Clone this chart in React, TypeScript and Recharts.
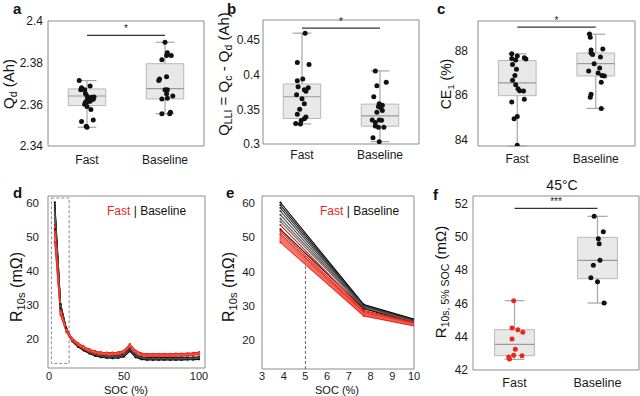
import React from 'react'
import {
  ComposedChart,
  Line,
  Scatter,
  XAxis,
  YAxis,
  ReferenceArea,
  ReferenceLine,
} from 'recharts'

const FONT = '"Liberation Sans", Arial, Helvetica, sans-serif'
const RED = '#e8281e'
const INK = '#111111'
const FRAME = '#8c8c8c'
const WHISK = '#a6a6a6'
const W = 640
const H = 396
const AXW = 45
const AXH = 30

const groupNames = ['Fast', 'Baseline']

// dots: [value, horizontal jitter]
const qdFast = [[2.3714, -0.1], [2.368, -0.07], [2.367, -0.08], [2.367, -0.03], [2.3688, 0.04], [2.3652, -0.02], [2.364, 0], [2.363, 0.02], [2.3634, 0.06], [2.3635, 0.09], [2.3624, 0.08], [2.362, 0], [2.361, -0.02], [2.3614, 0.01], [2.3615, 0.04], [2.36, -0.03], [2.359, 0], [2.3575, 0.05], [2.3518, -0.07], [2.3525, 0.08], [2.3495, -0.01], [2.349, 0]]
const qdBase = [[2.3898, 0], [2.3848, 0.03], [2.3835, 0.08], [2.3835, 0.02], [2.3814, -0.04], [2.3722, -0.07], [2.3714, -0.08], [2.3733, 0.02], [2.367, 0], [2.367, 0.03], [2.3651, 0.02], [2.364, 0.1], [2.3626, -0.04], [2.3629, 0.03], [2.3555, -0.04], [2.3555, 0.06], [2.3562, 0.07]]
const qlliFast = [[0.46, 0.04], [0.4176, -0.06], [0.4147, 0.09], [0.3914, -0.06], [0.3938, 0.01], [0.3827, -0.05], [0.3813, 0.08], [0.3784, 0.03], [0.376, 0.05], [0.3711, -0.07], [0.3653, 0], [0.358, 0.03], [0.3503, -0.03], [0.343, -0.06], [0.339, 0.05], [0.3363, 0.03], [0.3339, -0.01], [0.3295, -0.08], [0.329, -0.02]]
const qlliBase = [[0.4055, -0.06], [0.389, 0.08], [0.3842, -0.04], [0.3682, -0.08], [0.358, -0.01], [0.3561, 0.03], [0.3542, -0.02], [0.3522, 0.01], [0.3484, 0.03], [0.346, -0.04], [0.3348, -0.1], [0.3348, -0.01], [0.331, -0.06], [0.3343, 0.02], [0.3261, -0.06], [0.3242, -0.02], [0.3242, 0.05], [0.3092, -0.09], [0.3034, -0.01]]
const ceFast = [[87.84, -0.07], [87.75, 0], [87.63, -0.07], [87.57, -0.02], [87.67, 0.09], [87.61, 0.11], [87.36, -0.06], [87.15, -0.01], [86.87, -0.03], [86.66, -0.06], [86.46, -0.02], [86.28, 0.01], [86.19, 0.03], [86.18, 0.08], [85.81, 0.09], [85.69, -0.07], [85.04, 0], [84.94, -0.04], [83.75, 0]]
const ceBase = [[88.73, -0.08], [88.58, -0.07], [88.01, -0.06], [87.88, -0.06], [87.81, -0.04], [88.06, 0.09], [87.7, 0.06], [87.4, -0.02], [87.07, -0.09], [87.21, 0.05], [86.99, 0.03], [86.87, 0.08], [86.85, 0.11], [86.57, 0.07], [86.03, -0.06], [85.9, -0.07], [85.4, 0.07]]
const r5Fast = [[46.16, -0.01], [44.52, -0.03], [44.42, 0.04], [44.26, 0.1], [43.86, -0.03], [43.24, 0.01], [42.86, 0.09], [42.88, -0.01], [42.78, -0.07], [42.66, -0.06]]
const r5Base = [[51.22, -0.04], [50.3, 0.07], [49.88, 0.01], [49.58, 0.02], [48.58, 0.03], [48.28, -0.05], [47.54, -0.08], [47.3, 0], [46.02, 0.08]]

// box stats: [low whisker, q1, median, q3, high whisker]
const qdFastBox = [2.349, 2.3594, 2.364, 2.3674, 2.3714]
const qdBaseBox = [2.3555, 2.3626, 2.3675, 2.3795, 2.3898]
const qlliFastBox = [0.329, 0.3368, 0.3682, 0.3866, 0.46]
const qlliBaseBox = [0.3034, 0.3256, 0.3406, 0.3576, 0.4055]
const ceFastBox = [83.72, 85.97, 86.54, 87.54, 87.84]
const ceBaseBox = [85.4, 86.85, 87.4, 87.88, 88.72]
const r5FastBox = [42.64, 42.86, 43.54, 44.42, 46.16]
const r5BaseBox = [46.02, 47.48, 48.58, 49.96, 51.22]

// R10s vs SOC, one row per cell
const socPts = [3.85, 7.69, 11.54, 15.38, 19.23, 23.08, 26.92, 30.77, 34.62, 38.46, 42.31, 46.15, 50, 53.85, 57.69, 61.54, 65.38, 69.23, 73.08, 76.92, 80.77, 84.62, 88.46, 92.31, 96.15, 100]
const baseCells = [
  [60.2, 30.3, 23.2, 19.9, 18.3, 17.2, 16.3, 15.6, 15.2, 15.0, 15.0, 15.1, 15.5, 17.1, 15.3, 14.7, 14.5, 14.5, 14.5, 14.5, 14.5, 14.5, 14.6, 14.6, 14.6, 14.7],
  [59.4, 30.1, 23.0, 19.8, 18.2, 17.1, 16.2, 15.5, 15.1, 14.9, 14.9, 15.0, 15.4, 17.0, 15.2, 14.6, 14.4, 14.4, 14.4, 14.4, 14.4, 14.4, 14.5, 14.5, 14.5, 14.6],
  [58.6, 29.9, 22.9, 19.7, 18.1, 17.0, 16.1, 15.4, 15.0, 14.8, 14.8, 14.9, 15.3, 16.9, 15.1, 14.5, 14.3, 14.3, 14.3, 14.3, 14.3, 14.3, 14.4, 14.4, 14.4, 14.5],
  [57.7, 29.8, 22.8, 19.6, 18.0, 16.9, 16.0, 15.3, 14.9, 14.7, 14.7, 14.8, 15.2, 16.8, 15.0, 14.4, 14.2, 14.2, 14.2, 14.2, 14.2, 14.2, 14.2, 14.3, 14.3, 14.4],
  [56.6, 29.6, 22.6, 19.5, 17.9, 16.8, 15.9, 15.2, 14.8, 14.6, 14.6, 14.7, 15.1, 16.7, 14.9, 14.3, 14.1, 14.1, 14.1, 14.1, 14.1, 14.1, 14.1, 14.2, 14.2, 14.3],
  [55.5, 29.5, 22.5, 19.5, 17.9, 16.7, 15.8, 15.1, 14.7, 14.5, 14.5, 14.6, 15.0, 16.6, 14.8, 14.2, 14.0, 14.0, 14.0, 14.0, 14.0, 14.0, 14.0, 14.1, 14.1, 14.2],
  [54.6, 29.3, 22.4, 19.4, 17.8, 16.7, 15.8, 15.1, 14.7, 14.5, 14.4, 14.5, 14.9, 16.5, 14.7, 14.1, 13.9, 13.9, 13.9, 13.9, 13.9, 13.9, 13.9, 14.0, 14.0, 14.1],
  [52.3, 29.1, 22.2, 19.3, 17.7, 16.6, 15.7, 15.0, 14.6, 14.4, 14.3, 14.4, 14.8, 16.4, 14.6, 14.0, 13.8, 13.8, 13.8, 13.8, 13.8, 13.8, 13.8, 13.9, 13.9, 14.0],
]
const fastCells = [
  [53.6, 28.6, 22.8, 20.2, 18.8, 17.8, 17.0, 16.4, 16.1, 16.0, 16.0, 16.1, 16.6, 18.5, 16.6, 15.8, 15.6, 15.6, 15.6, 15.6, 15.6, 15.7, 15.7, 15.8, 15.9, 16.1],
  [51.7, 28.3, 22.7, 20.1, 18.7, 17.7, 16.9, 16.3, 16.0, 15.9, 15.9, 16.0, 16.5, 18.3, 16.5, 15.7, 15.5, 15.5, 15.5, 15.5, 15.5, 15.6, 15.6, 15.7, 15.8, 16.0],
  [51.0, 28.0, 22.6, 20.0, 18.6, 17.6, 16.8, 16.2, 15.9, 15.8, 15.8, 15.9, 16.4, 18.2, 16.4, 15.6, 15.4, 15.4, 15.4, 15.4, 15.4, 15.5, 15.5, 15.6, 15.7, 15.9],
  [50.6, 27.8, 22.5, 19.9, 18.5, 17.5, 16.7, 16.1, 15.8, 15.7, 15.7, 15.8, 16.3, 18.1, 16.3, 15.5, 15.3, 15.3, 15.3, 15.3, 15.3, 15.4, 15.4, 15.5, 15.6, 15.8],
  [50.0, 27.6, 22.4, 19.8, 18.4, 17.4, 16.6, 16.0, 15.7, 15.6, 15.6, 15.7, 16.2, 18.0, 16.2, 15.4, 15.2, 15.2, 15.2, 15.2, 15.2, 15.3, 15.3, 15.4, 15.5, 15.7],
  [49.5, 27.4, 22.3, 19.7, 18.3, 17.3, 16.5, 15.9, 15.6, 15.5, 15.5, 15.6, 16.1, 17.8, 16.1, 15.3, 15.1, 15.1, 15.1, 15.1, 15.1, 15.2, 15.2, 15.3, 15.4, 15.6],
  [49.0, 27.2, 22.2, 19.6, 18.2, 17.2, 16.4, 15.8, 15.5, 15.4, 15.4, 15.5, 16.0, 17.7, 16.0, 15.2, 15.0, 15.0, 15.0, 15.0, 15.0, 15.1, 15.1, 15.2, 15.3, 15.5],
  [48.5, 27.0, 22.1, 19.5, 18.1, 17.1, 16.3, 15.7, 15.4, 15.3, 15.3, 15.4, 15.9, 17.6, 15.9, 15.1, 14.9, 14.9, 14.9, 14.9, 14.9, 14.9, 15.0, 15.1, 15.2, 15.4],
]
const baseShades = ['#000000', '#1c1c1c', '#2e2e2e', '#3d3d3d', '#4a4a4a', '#575757', '#636363', '#101010']
const fastShades = ['#e3170d', '#e8261b', '#ec3427', '#ef4233', '#f14f40', '#f35c4d', '#f5695a', '#e62c20']

const lineRows = socPts.map((soc, i) => {
  const row: any = { soc }
  baseCells.forEach((c, k) => (row[`b${k}`] = c[i]))
  fastCells.forEach((c, k) => (row[`f${k}`] = c[i]))
  return row
})

const rDomain = [11.45, 62.1]
const rTicks = [20, 30, 40, 50, 60]

type Plot = { left: number; top: number; right: number; bottom: number }

const marginOf = (p: Plot) => ({ top: p.top, left: p.left - AXW, right: W - p.right, bottom: H - p.bottom - AXH })
const tickStyle = (size: number) => ({ fill: '#1a1a1a', fontSize: size, fontFamily: FONT })
const abs: React.CSSProperties = { position: 'absolute', left: 0, top: 0 }

// small inward ticks on all four sides, matlab style
const inward = (xd: number[], xt: number[], yd: number[], yt: number[]) => [
  <XAxis key="xb" xAxisId="xb" type="number" orientation="bottom" mirror domain={xd} ticks={xt} allowDataOverflow tick={false} axisLine={false} tickSize={3} tickLine={{ stroke: FRAME }} height={0} />,
  <XAxis key="xt" xAxisId="xt" type="number" orientation="top" mirror domain={xd} ticks={xt} allowDataOverflow tick={false} axisLine={false} tickSize={3} tickLine={{ stroke: FRAME }} height={0} />,
  <YAxis key="yl" yAxisId="yl" type="number" orientation="left" mirror domain={yd} ticks={yt} allowDataOverflow tick={false} axisLine={false} tickSize={3} tickLine={{ stroke: FRAME }} width={0} />,
  <YAxis key="yr" yAxisId="yr" type="number" orientation="right" mirror domain={yd} ticks={yt} allowDataOverflow tick={false} axisLine={false} tickSize={3} tickLine={{ stroke: FRAME }} width={0} />,
]

const dotShape = (color: string) => (p: any) => <circle cx={p.cx} cy={p.cy} r={2.5} fill={color} />

const starLabel = (stars: string) => (p: any) => {
  const vb = p.viewBox || {}
  return (
    <text x={vb.x + (vb.width || 0) / 2} y={vb.y - 3} textAnchor="middle" fontSize={10} fill="#222" fontFamily={FONT}>
      {stars}
    </text>
  )
}

function BoxPanel(props: any) {
  const { plot, yDomain, yTicks, fast, base, fastBox, baseBox, sig, stars, fastColor = INK, yGap = 5, xGap = 9, xFont = 12 } = props
  const xDomain = [0.5, 2.5]
  const pts = (rows: number[][], c: number) => rows.map(([y, j]) => ({ x: c + j, y }))
  const stats = [fastBox, baseBox]
  return (
    <div style={abs}>
      <ComposedChart width={W} height={H} margin={marginOf(plot)}>
        <XAxis type="number" dataKey="x" domain={xDomain} ticks={[1, 2]} interval={0} tickFormatter={(v: number) => groupNames[v - 1]} axisLine={false} tickLine={false} tickSize={0} tickMargin={xGap} height={AXH} tick={tickStyle(xFont)} />
        <YAxis type="number" dataKey="y" domain={yDomain} ticks={yTicks} interval={0} allowDataOverflow axisLine={false} tickLine={false} tickSize={0} tickMargin={yGap} width={AXW} tick={tickStyle(12)} />
        {inward(xDomain, [1, 2], yDomain, yTicks)}
        <ReferenceArea x1={xDomain[0]} x2={xDomain[1]} y1={yDomain[0]} y2={yDomain[1]} fill="none" stroke={FRAME} ifOverflow="visible" />
        {stats.map((b: number[], i: number) => {
          const c = i + 1
          return [
            <ReferenceArea key={`box${i}`} x1={c - 0.24} x2={c + 0.24} y1={b[1]} y2={b[3]} fill="#e8e8e8" fillOpacity={1} stroke="#b9b9b9" ifOverflow="visible" />,
            <ReferenceLine key={`wl${i}`} segment={[{ x: c, y: b[0] }, { x: c, y: b[1] }]} stroke={WHISK} strokeWidth={1.2} ifOverflow="visible" />,
            <ReferenceLine key={`wh${i}`} segment={[{ x: c, y: b[3] }, { x: c, y: b[4] }]} stroke={WHISK} strokeWidth={1.2} ifOverflow="visible" />,
            <ReferenceLine key={`cl${i}`} segment={[{ x: c - 0.12, y: b[0] }, { x: c + 0.12, y: b[0] }]} stroke={WHISK} strokeWidth={1.2} ifOverflow="visible" />,
            <ReferenceLine key={`ch${i}`} segment={[{ x: c - 0.12, y: b[4] }, { x: c + 0.12, y: b[4] }]} stroke={WHISK} strokeWidth={1.2} ifOverflow="visible" />,
            <ReferenceLine key={`md${i}`} segment={[{ x: c - 0.24, y: b[2] }, { x: c + 0.24, y: b[2] }]} stroke="#9a9a9a" strokeWidth={1.2} ifOverflow="visible" />,
          ]
        })}
        <ReferenceLine segment={[{ x: 1, y: sig }, { x: 2, y: sig }]} stroke="#333" strokeWidth={1.2} ifOverflow="visible" label={{ position: 'top', content: starLabel(stars) }} />
        <Scatter data={pts(fast, 1)} fill={fastColor} shape={dotShape(fastColor)} isAnimationActive={false} />
        <Scatter data={pts(base, 2)} fill={INK} shape={dotShape(INK)} isAnimationActive={false} />
      </ComposedChart>
    </div>
  )
}

function LinePanel(props: any) {
  const { plot, xDomain, xTicks, yGap = 7, xGap = 6, extras } = props
  return (
    <div style={abs}>
      <ComposedChart width={W} height={H} margin={marginOf(plot)} data={lineRows}>
        <XAxis type="number" dataKey="soc" domain={xDomain} ticks={xTicks} interval={0} allowDataOverflow axisLine={false} tickLine={false} tickSize={0} tickMargin={xGap} height={AXH} tick={tickStyle(11)} />
        <YAxis type="number" domain={rDomain} ticks={rTicks} interval={0} allowDataOverflow axisLine={false} tickLine={false} tickSize={0} tickMargin={yGap} width={AXW} tick={tickStyle(11.5)} />
        {inward(xDomain, xTicks, rDomain, rTicks)}
        <ReferenceArea x1={xDomain[0]} x2={xDomain[1]} y1={rDomain[0]} y2={rDomain[1]} fill="none" stroke={FRAME} ifOverflow="visible" />
        {extras}
        {baseCells.map((_, k) => (
          <Line key={`b${k}`} dataKey={`b${k}`} stroke={baseShades[k]} strokeWidth={1.1} dot={{ r: 1.1, fill: baseShades[k], stroke: 'none' }} isAnimationActive={false} />
        ))}
        {fastCells.map((_, k) => (
          <Line key={`f${k}`} dataKey={`f${k}`} stroke={fastShades[k]} strokeWidth={1.1} dot={{ r: 1.1, fill: fastShades[k], stroke: 'none' }} isAnimationActive={false} />
        ))}
      </ComposedChart>
    </div>
  )
}

const Sub = ({ children }: { children: React.ReactNode }) => (
  <span style={{ fontSize: '0.7em', position: 'relative', top: '0.3em' }}>{children}</span>
)

const VLabel = ({ x, y, size, children }: any) => (
  <div style={{ position: 'absolute', left: x, top: y, transform: 'translate(-50%, -50%) rotate(-90deg)', fontSize: size, lineHeight: 1, whiteSpace: 'nowrap', color: INK, fontFamily: FONT }}>
    {children}
  </div>
)

const Txt = ({ x, y, size, bold, center, children }: any) => (
  <div style={{ position: 'absolute', left: x, top: y, transform: center ? 'translateX(-50%)' : undefined, fontSize: size, fontWeight: bold ? 'bold' : 'normal', lineHeight: 1, whiteSpace: 'nowrap', color: INK, fontFamily: FONT }}>
    {children}
  </div>
)

export default function App() {
  return (
    <div style={{ position: 'absolute', left: 0, top: 0, width: W, height: H, background: '#fff', overflow: 'hidden', fontFamily: FONT }}>
      <BoxPanel plot={{ left: 48, top: 21, right: 204, bottom: 146 }} yDomain={[2.34, 2.4]} yTicks={[2.34, 2.36, 2.38, 2.4]} fast={qdFast} base={qdBase} fastBox={qdFastBox} baseBox={qdBaseBox} sig={2.3931} stars="*" yGap={5} xGap={9} />
      <BoxPanel plot={{ left: 263, top: 20, right: 419, bottom: 144 }} yDomain={[0.3, 0.479]} yTicks={[0.3, 0.35, 0.4, 0.45]} fast={qlliFast} base={qlliBase} fastBox={qlliFastBox} baseBox={qlliBaseBox} sig={0.4674} stars="*" yGap={3} xGap={6} />
      <BoxPanel plot={{ left: 478, top: 21, right: 635, bottom: 146 }} yDomain={[83.72, 89.31]} yTicks={[84, 86, 88]} fast={ceFast} base={ceBase} fastBox={ceFastBox} baseBox={ceBaseBox} sig={89.04} stars="*" yGap={10} xGap={8} />
      <BoxPanel plot={{ left: 473, top: 196, right: 639, bottom: 370 }} yDomain={[42, 52.44]} yTicks={[42, 44, 46, 48, 50, 52]} fast={r5Fast} base={r5Base} fastBox={r5FastBox} baseBox={r5BaseBox} sig={51.7} stars="***" fastColor={RED} yGap={5} xGap={8} xFont={12.5} />
      <LinePanel
        plot={{ left: 48, top: 196, right: 205, bottom: 368 }}
        xDomain={[-0.7, 104]}
        xTicks={[0, 50, 100]}
        yGap={9}
        xGap={4}
        extras={<ReferenceArea x1={1.56} x2={13.4} y1={12.8} y2={61.5} fill="none" stroke="#8a8a8a" strokeDasharray="3 2" ifOverflow="visible" />}
      />
      <LinePanel
        plot={{ left: 262, top: 196, right: 414, bottom: 369 }}
        xDomain={[3, 10]}
        xTicks={[3, 4, 5, 6, 7, 8, 9, 10]}
        yGap={7}
        xGap={3}
        extras={<ReferenceLine segment={[{ x: 5, y: rDomain[0] }, { x: 5, y: 45.6 }]} stroke="#666" strokeDasharray="3 2" ifOverflow="visible" />}
      />

      <Txt x={13} y={1} size={15} bold>a</Txt>
      <Txt x={227} y={1} size={15} bold>b</Txt>
      <Txt x={437} y={1} size={15} bold>c</Txt>
      <Txt x={13} y={185} size={15} bold>d</Txt>
      <Txt x={226} y={185} size={15} bold>e</Txt>
      <Txt x={433} y={187} size={15} bold>f</Txt>
      <Txt x={562} y={178} size={14} center>45°C</Txt>

      <VLabel x={8} y={84} size={15}>Q<Sub>d</Sub> (Ah)</VLabel>
      <VLabel x={223} y={74} size={15}>Q<Sub>LLI</Sub> = Q<Sub>c</Sub> - Q<Sub>d</Sub> (Ah)</VLabel>
      <VLabel x={446} y={84} size={14}>CE<Sub>1</Sub> (%)</VLabel>
      <VLabel x={17} y={287} size={16}>R<Sub>10s</Sub> (mΩ)</VLabel>
      <VLabel x={229} y={287} size={16}>R<Sub>10s</Sub> (mΩ)</VLabel>
      <VLabel x={440} y={282} size={15}>R<Sub>10s, 5% SOC</Sub> (mΩ)</VLabel>

      <Txt x={126} y={385} size={11} center>SOC (%)</Txt>
      <Txt x={337} y={385} size={11} center>SOC (%)</Txt>
      <Txt x={107} y={205} size={12}><span style={{ color: RED }}>Fast</span> | Baseline</Txt>
      <Txt x={320} y={205} size={12}><span style={{ color: RED }}>Fast</span> | Baseline</Txt>
    </div>
  )
}
